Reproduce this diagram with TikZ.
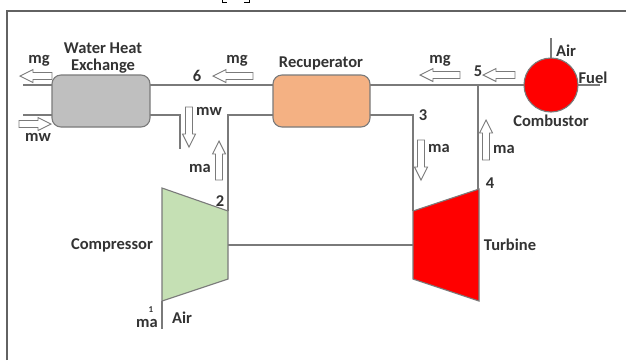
\documentclass[tikz,border=0pt]{standalone}
\usepackage{fontspec}
\setmainfont{Carlito}
\definecolor{ln}{HTML}{7A7A7A}
\newcommand{\harrow}[4]{\draw[hollowline,shift={(#1,#2)},rotate=#3] (0,0) -- (13,-6.5) -- (13,-3.5) -- (#4,-3.5) -- (#4,3.5) -- (13,3.5) -- (13,6.5) -- cycle;}
\tikzset{
  x=1pt,y=-1pt,
  pipe/.style={draw=ln,line width=1.6pt},
  unit/.style={draw=ln,line width=1.1pt,rounded corners=9pt},
  hollowline/.style={draw=ln,fill=white,line width=0.9pt},
  lab/.style={font=\bfseries\fontsize{16.5}{18}\selectfont,text=black!80,inner sep=0pt,align=center}
}
\begin{document}
\begin{tikzpicture}
\useasboundingbox (0,0) rectangle (626,360);
\fill[white] (0,0) rectangle (626,360);
\draw[draw=black,line width=1pt] (222,0) -- (222,2.5) -- (227,2.5) (249,0) -- (249,2.5) -- (244,2.5);
\draw[draw=ln!80!black,line width=1.5pt] (7,360) -- (7,11) -- (626,11);
% pipes
\coordinate (p1) at (23,85); \coordinate (p2) at (23,115);
\coordinate (p3) at (180,115); \coordinate (p4) at (180,149);
\coordinate (p5) at (228,115); \coordinate (p6) at (413,115);
\coordinate (p7) at (478,85); \coordinate (p8) at (600,85);
\coordinate (p9) at (551,38); \coordinate (p10) at (162,329);
\coordinate (p11) at (162,301);
\coordinate (w1) at (150,85); \coordinate (w2) at (150,115);
\coordinate (r1) at (273,85); \coordinate (r2) at (273,115);
\coordinate (r3) at (370,85); \coordinate (r4) at (370,115);
\coordinate (c2) at (228,211); \coordinate (c3) at (228,245);
\coordinate (t1) at (413,211); \coordinate (t2) at (413,245);
\coordinate (t3) at (478,189);
\draw[pipe] (p1) -- (52,85);
\draw[pipe] (p2) -- (52,115);
\draw[pipe] (w1) -- (r1);
\draw[pipe] (w2) -- (p3) -- (p4);
\draw[pipe] (r2) -- (p5) -- (c2);
\draw[pipe] (r3) -- (p8);
\draw[pipe] (r4) -- (p6) -- (t1);
\draw[pipe] (p7) -- (t3);
\draw[pipe] (p9) -- (551,60);
\draw[pipe] (c3) -- (t2);
\draw[pipe,line width=1.2pt] (p11) -- (p10);
% units
\node[unit,fill=black!25,minimum width=98pt,minimum height=52pt,inner sep=0pt] (whe) at (101,101) {};
\node[unit,minimum width=97pt,minimum height=52pt,inner sep=0pt,fill={rgb,255:red,244;green,177;blue,131}] (rec) at (321.5,101) {};
\node[circle,draw=ln,line width=1.1pt,fill=red,minimum size=54pt,inner sep=0pt] (comb) at (551,85) {};
\draw[draw=ln,line width=1.1pt,fill={rgb,255:red,197;green,224;blue,180}] (162,188) -- (228,211) -- (228,279) -- (162,301) -- cycle;
\draw[draw=ln,line width=1.1pt,fill=red] (413,211) -- (479,189) -- (479,301) -- (413,279) -- cycle;
% hollow arrows
\harrow{20}{76}{0}{32}
\harrow{213}{76}{0}{40}
\harrow{420}{75}{0}{40}
\harrow{483}{75}{0}{32}
\harrow{51}{124}{180}{32}
\harrow{189}{147}{90}{40}
\harrow{219}{141}{-90}{39}
\harrow{421}{180}{90}{40}
\harrow{486}{120}{-90}{40}
% labels
\node[lab] at (103,48) {Water Heat};
\node[lab] at (103,66) {Exchange};
\node[lab] at (39,61) {mg};
\node[lab] at (237,61) {mg};
\node[lab] at (440,61) {mg};
\node[lab] at (38,137) {mw};
\node[lab] at (209,111) {mw};
\node[lab] at (200,168) {ma};
\node[lab] at (439,148) {ma};
\node[lab] at (504,149) {ma};
\node[lab] at (197,76) {6};
\node[lab] at (478,71) {5};
\node[lab] at (423,115) {3};
\node[lab] at (490,183) {4};
\node[lab] at (220,201) {2};
\node[lab,font=\bfseries\fontsize{9}{10}\selectfont] at (151,310) {1};
\node[lab] at (147,323) {ma};
\node[lab] at (182,318) {Air};
\node[lab] at (321,63) {Recuperator};
\node[lab] at (566,51) {Air};
\node[lab] at (593,78) {Fuel};
\node[lab] at (551,121) {Combustor};
\node[lab] at (112,245) {Compressor};
\node[lab] at (510,245) {Turbine};
\end{tikzpicture}
\end{document}
